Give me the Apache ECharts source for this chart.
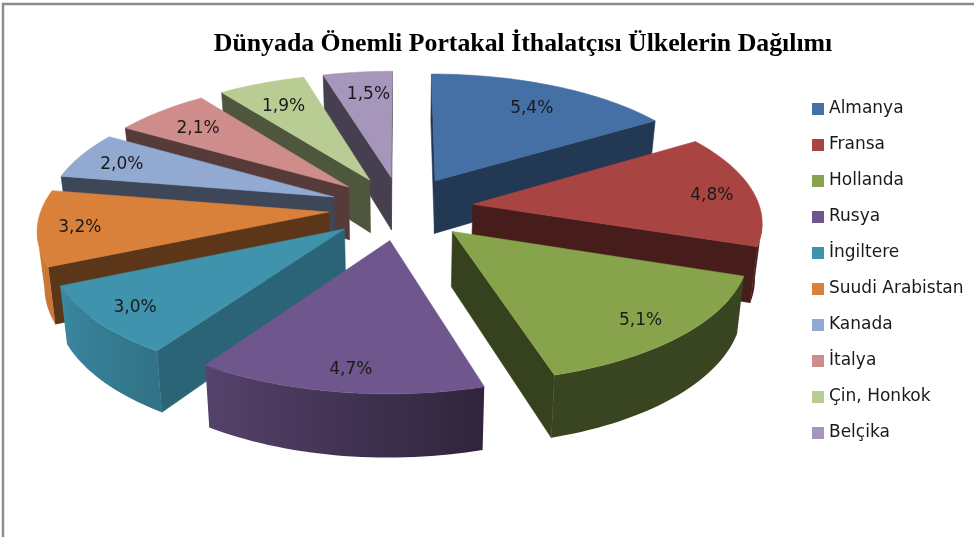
<!DOCTYPE html>
<html>
<head>
<meta charset="utf-8">
<style>html,body{margin:0;padding:0;background:#fff}#c{width:974px;height:537px}</style>
<script src="https://cdn.jsdelivr.net/npm/echarts@6/dist/echarts.min.js"></script>
</head>
<body>
<div id="c"></div>
<script>
var titleText = 'Dünyada Önemli Portakal İthalatçısı Ülkelerin Dağılımı';
var categories = ['Almanya','Fransa','Hollanda','Rusya','İngiltere','Suudi Arabistan','Kanada','İtalya','Çin, Honkok','Belçika'];
var values = [5.4,4.8,5.1,4.7,3.0,3.2,2.0,2.1,1.9,1.5];
var colors = ['#4570A6','#A84442','#87A44C','#6F568C','#3F93AD','#D9803A','#92A9D1','#CE8C8A','#B9CC93','#A796BC'];
var drawOrder = [1,5,8,9,7,6,4,3,2,0]; // z rank per slice, back to front
var wallShade = [0.5,0.42,0.4,0.42,0.68,0.42,0.42,0.42,0.42,0.42];
var labelRadius = [0.7,0.84,0.87,0.9,0.89,0.89,0.83,0.76,0.75,0.68];
var labelNudge = [[11,-4],[4,3],[-8,-1],[7,-5],[9,-3],[10,1],[-1,2],[-5,0],[-3,1],[1,-9]];

// view geometry of the tilted pie
var CX = 401, CY = 208, RX = 287, RY = 126, PERSP = 0.122, EXPLODE = 0.253, DEPTH = 54, BASE_SHRINK = 0.98;

var total = values.reduce(function (a, b) { return a + b; }, 0);
function startAngle(i) {
  var s = 0;
  for (var k = 0; k < i; k++) s += values[k];
  return s / total * Math.PI * 2;
}
function project(px, py, down) {
  var s = 1 / (1 - py * PERSP);
  var x = RX * px * s;
  if (down) x *= BASE_SHRINK;
  return [CX + x, CY + RY * py * s + (down ? DEPTH * s : 0)];
}
function shadeAt(deg) {
  if (deg <= 163) return 0.42;
  if (deg <= 214) return 0.42 + (deg - 163) / 51 * 0.36;
  if (deg <= 250) return 0.78 + (deg - 214) / 36 * 0.17;
  return 0.95;
}
function tint(hex, f) {
  var n = parseInt(hex.slice(1), 16);
  var c = [(n >> 16) & 255, (n >> 8) & 255, n & 255].map(function (v) { return Math.round(v * f); });
  return 'rgb(' + c.join(',') + ')';
}
function cross(a, b, c) {
  return (b[0] - a[0]) * (c[1] - a[1]) - (b[1] - a[1]) * (c[0] - a[0]);
}
function wallVisible(p0, p1, inner) {
  var below = [p0[0], p0[1] + 10];
  return cross(p0, p1, below) * cross(p0, p1, inner) < 0;
}
function poly(points, fill) {
  return { type: 'polygon', shape: { points: points }, style: { fill: fill, stroke: fill, lineWidth: 0.6 }, silent: true };
}
function sliceRenderer(i) {
  return function (params, api) {
    var v = api.value(0);
    var a0 = startAngle(i), a1 = a0 + v / total * Math.PI * 2, mid = (a0 + a1) / 2;
    var ax = EXPLODE * Math.sin(mid), ay = -EXPLODE * Math.cos(mid);
    var pl = function (t) { return [ax + Math.sin(t), ay - Math.cos(t)]; };
    var apex = project(ax, ay, false), apexB = project(ax, ay, true);
    var midTop = project(pl(mid)[0], pl(mid)[1], false);
    var steps = Math.max(4, Math.round((a1 - a0) / (Math.PI / 120)));
    var rim = [], rimB = [], angs = [];
    for (var k = 0; k <= steps; k++) {
      var t = a0 + (a1 - a0) * k / steps, q = pl(t);
      rim.push(project(q[0], q[1], false));
      rimB.push(project(q[0], q[1], true));
      angs.push(t);
    }
    var kids = [];
    var wallFill = tint(colors[i], wallShade[i]);
    if (wallVisible(apex, rim[0], midTop)) kids.push(poly([apex, rim[0], rimB[0], apexB], wallFill));
    if (wallVisible(apex, rim[steps], midTop)) kids.push(poly([apex, rim[steps], rimB[steps], apexB], wallFill));
    // outer curved wall: one polygon with a horizontal shading gradient
    var first = -1, last = -1;
    for (k = 0; k < steps; k++) {
      if (wallVisible(rim[k], rim[k + 1], apex)) {
        if (first < 0) first = k;
        last = k + 1;
      }
    }
    if (first >= 0) {
      var topRun = rim.slice(first, last + 1), botRun = rimB.slice(first, last + 1);
      var xs = topRun.concat(botRun).map(function (p) { return p[0]; });
      var minX = Math.min.apply(null, xs), maxX = Math.max.apply(null, xs);
      var stops = [];
      for (k = first; k <= last; k++) {
        stops.push({
          offset: Math.max(0, Math.min(1, (rim[k][0] - minX) / (maxX - minX || 1))),
          color: tint(colors[i], shadeAt(angs[k] * 180 / Math.PI))
        });
      }
      stops.sort(function (a, b) { return a.offset - b.offset; });
      var grad = { type: 'linear', x: 0, y: 0, x2: 1, y2: 0, global: false, colorStops: stops };
      kids.push({
        type: 'polygon', silent: true,
        shape: { points: topRun.concat(botRun.slice().reverse()) },
        style: { fill: grad }
      });
    }
    kids.push(poly([apex].concat(rim), colors[i]));
    var lp = project(ax + labelRadius[i] * Math.sin(mid), ay - labelRadius[i] * Math.cos(mid), false);
    kids.push({
      type: 'text', silent: true, z2: 100,
      style: {
        x: lp[0] + labelNudge[i][0], y: lp[1] + labelNudge[i][1], text: v.toFixed(1).replace('.', ',') + '%',
        align: 'center', verticalAlign: 'middle',
        font: '17px "DejaVu Sans"', fill: '#1a1a1a'
      }
    });
    return { type: 'group', children: kids };
  };
}
var series = categories.map(function (name, i) {
  return {
    type: 'custom', name: name, coordinateSystem: 'none',
    z: 2 + drawOrder[i],
    itemStyle: { color: colors[i] },
    data: [[values[i]]],
    renderItem: sliceRenderer(i),
    animation: false, silent: true
  };
});
var chart = echarts.init(document.getElementById('c'), null, { renderer: 'canvas' });
chart.setOption({
  backgroundColor: '#fff',
  animation: false,
  title: {
    text: titleText, left: 518, top: 26, textAlign: 'center',
    textStyle: { fontFamily: '"Liberation Serif"', fontWeight: 'bold', fontSize: 25.8, color: '#000' }
  },
  legend: {
    data: categories, orient: 'vertical', left: 807, top: 94,
    icon: 'rect', itemWidth: 12, itemHeight: 12, itemGap: 16,
    selectedMode: false,
    textStyle: { fontFamily: '"DejaVu Sans"', fontSize: 17, color: '#1a1a1a', lineHeight: 20 }
  },
  graphic: [{
    type: 'rect', silent: true, z: 0,
    shape: { x: 3, y: 4, width: 1100, height: 700 },
    style: { fill: 'none', stroke: '#8c8c8c', lineWidth: 2.5 }
  }],
  series: series
});
</script>
</body>
</html>
